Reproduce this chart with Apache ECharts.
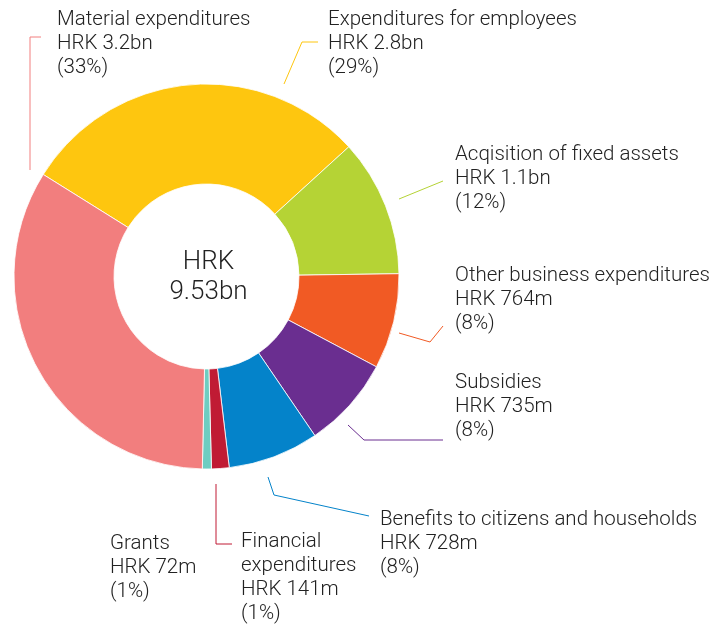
<!DOCTYPE html>
<html>
<head>
<meta charset="utf-8">
<script src="https://cdn.jsdelivr.net/npm/echarts@6/dist/echarts.min.js"></script>
<style>
html,body{margin:0;padding:0;background:#fff;}
#chart{width:713px;height:628px;}
</style>
</head>
<body>
<div id="chart"></div>
<script>
// ---- data ----
const categories = ['Expenditures for employees', 'Acqisition of fixed assets', 'Other business expenditures', 'Subsidies', 'Benefits to citizens and households', 'Financial\nexpenditures', 'Grants', 'Material expenditures'];
const values = [2800, 1100, 764, 735, 728, 141, 72, 3200]; // HRK million
const valueLabels = ['HRK 2.8bn', 'HRK 1.1bn', 'HRK 764m', 'HRK 735m', 'HRK 728m', 'HRK 141m', 'HRK 72m', 'HRK 3.2bn'];
const percentLabels = ['(29%)', '(12%)', '(8%)', '(8%)', '(8%)', '(1%)', '(1%)', '(33%)'];
const totalLabel = ['HRK', '9.53bn'];

// ---- styling / layout ----
const colors = ['#FEC60F', '#B5D335', '#F15A24', '#6A2E90', '#0483CA', '#C01B34', '#6ECDC1', '#F27E7E'];
const CX = 206.5, CY = 276.5;
const labelPos = [[328, 8], [455, 143], [455, 264], [455, 371], [380, 508], [241, 530], [110, 532], [57, 8]];
const guides = [
  [[284, 84], [302, 42], [318, 42]],
  [[399, 199], [421, 190], [443, 181]],
  [[399, 333], [430, 342], [443, 326]],
  [[348, 425], [364, 440], [443, 440]],
  [[268, 477], [274, 495], [369, 516]],
  [[216, 484], [216, 544], [232, 544]],
  null,
  [[30, 170], [30, 37], [41, 37]]
];
const FONT = 'Roboto, "Noto Sans", sans-serif';

const chart = echarts.init(document.getElementById('chart'), null, {renderer: 'canvas'});
chart.setOption({
  animation: false,
  backgroundColor: '#fff',
  graphic: [{
    type: 'text',
    x: CX + 2, y: CY + 1,
    style: {
      text: totalLabel.join('\n'),
      align: 'center',
      verticalAlign: 'middle',
      fontFamily: FONT,
      fontWeight: 300,
      fontSize: 26,
      lineHeight: 30,
      fill: '#222'
    }
  }],
  series: [{
    type: 'pie',
    center: [CX, CY],
    radius: [92.5, 192.5],
    startAngle: 148,
    clockwise: true,
    avoidLabelOverlap: false,
    emphasis: {disabled: true},
    itemStyle: {borderColor: '#fff', borderWidth: 0.8},
    label: {
      show: true,
      position: 'outside',
      fontFamily: FONT,
      fontWeight: 300,
      fontSize: 20.5,
      lineHeight: 24,
      color: '#222',
      formatter: function (p) {
        return categories[p.dataIndex] + '\n' + valueLabels[p.dataIndex] + '\n' + percentLabels[p.dataIndex];
      }
    },
    labelLine: {show: true, length: 10, length2: 10, lineStyle: {width: 1}},
    labelLayout: function (p) {
      const i = p.dataIndex;
      const o = {x: labelPos[i][0], y: labelPos[i][1], align: 'left', verticalAlign: 'top'};
      if (guides[i]) o.labelLinePoints = guides[i];
      return o;
    },
    data: categories.map(function (c, i) {
      const d = {name: c, value: values[i], itemStyle: {color: colors[i]}};
      if (!guides[i]) d.labelLine = {show: false};
      return d;
    })
  }]
});
</script>
</body>
</html>
